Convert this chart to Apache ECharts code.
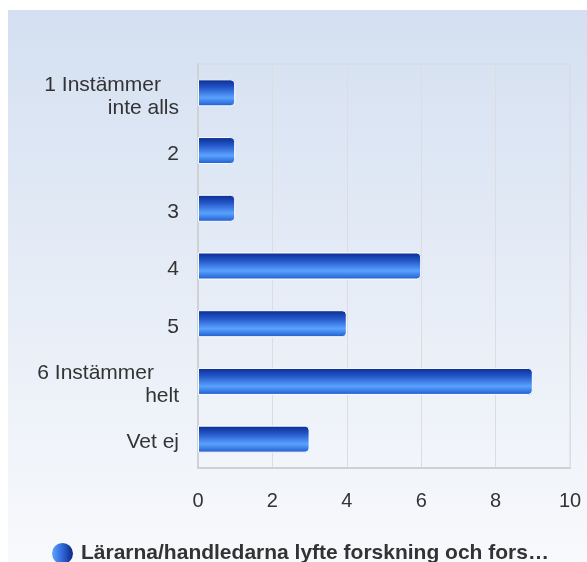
<!DOCTYPE html>
<html>
<head>
<meta charset="utf-8">
<script src="https://cdn.jsdelivr.net/npm/echarts@6/dist/echarts.min.js"></script>
<style>
  html, body { margin: 0; padding: 0; background: #ffffff; }
  #chart { position: absolute; left: 8px; top: 10px; width: 579px; height: 552px; }
</style>
</head>
<body>
<div id="chart"></div>
<script>
// Answer categories, top to bottom
const categories = ['1 Instämmer\ninte alls', '2', '3', '4', '5', '6 Instämmer\nhelt', 'Vet ej'];
// Number of responses per category
const counts = [1, 1, 1, 6, 4, 9, 3];
const seriesName = 'Lärarna/handledarna lyfte forskning och fors…';
const xTicks = { min: 0, max: 10, interval: 2 };

const FONT = 'Liberation Sans, Arial, sans-serif';
const chart = echarts.init(document.getElementById('chart'), null, { renderer: 'canvas' });

const barGradient = new echarts.graphic.LinearGradient(0, 0, 0, 1, [
  { offset: 0, color: '#0b2b8f' },
  { offset: 0.3, color: '#2356c8' },
  { offset: 0.68, color: '#5aa2ff' },
  { offset: 1, color: '#1d5acd' }
]);
const legendGradient = new echarts.graphic.LinearGradient(0, 0, 1, 0, [
  { offset: 0, color: '#5ea3ff' },
  { offset: 0.5, color: '#2f66d8' },
  { offset: 1, color: '#0a2680' }
]);

// Two-line labels: first line keeps the space left over from wrapping
function categoryLabel(value) {
  const lines = value.split('\n');
  if (lines.length === 1) return value;
  const pad = value.startsWith('6') ? 'w6' : 'w1';
  return '{' + pad + '|' + lines[0] + '}\n{n|' + lines[1] + '}';
}

chart.setOption({
  animation: false,
  backgroundColor: new echarts.graphic.LinearGradient(0, 0, 0, 1, [
    { offset: 0, color: '#d4e0f1' },
    { offset: 1, color: '#f8f9fc' }
  ]),
  textStyle: { fontFamily: FONT },
  grid: { left: 190, right: 17, top: 54, bottom: 94, show: true, borderColor: '#d6d8dc', borderWidth: 1, backgroundColor: 'transparent' },
  legend: {
    left: 39, top: 528,
    itemWidth: 21, itemHeight: 21, itemGap: 10,
    icon: 'circle',
    data: [{ name: seriesName, itemStyle: { color: legendGradient, borderWidth: 0 } }],
    textStyle: { fontSize: 21, fontWeight: 'bold', color: '#333333', fontFamily: FONT, padding: [0, 0, 0, 3] }
  },
  xAxis: {
    type: 'value',
    min: xTicks.min, max: xTicks.max, interval: xTicks.interval,
    axisLine: { show: true, lineStyle: { color: '#cfd1d4', width: 2 } },
    axisTick: { show: false },
    splitLine: { show: true, lineStyle: { color: '#dcdde0', width: 1 } },
    axisLabel: { fontSize: 20, color: '#333333', margin: 23, fontFamily: FONT }
  },
  yAxis: {
    type: 'category',
    data: categories,
    inverse: true,
    axisLine: { show: true, lineStyle: { color: '#cfd1d4', width: 2 } },
    axisTick: { show: false },
    splitLine: { show: false },
    axisLabel: {
      fontSize: 21, color: '#333333', margin: 19, align: 'right', lineHeight: 23, fontFamily: FONT,
      padding: [7, 0, 0, 0],
      formatter: categoryLabel,
      rich: {
        w1: { fontSize: 21, color: '#333333', lineHeight: 23, padding: [0, 18, 0, 0], fontFamily: FONT },
        w6: { fontSize: 21, color: '#333333', lineHeight: 23, padding: [0, 25, 0, 0], fontFamily: FONT },
        n: { fontSize: 21, color: '#333333', lineHeight: 23, fontFamily: FONT }
      }
    }
  },
  series: [{
    name: seriesName,
    type: 'bar',
    data: counts,
    barWidth: 27,
    itemStyle: {
      color: barGradient,
      borderColor: '#ffffff',
      borderWidth: 1,
      borderRadius: [0, 4, 4, 0]
    }
  }]
});
</script>
</body>
</html>
